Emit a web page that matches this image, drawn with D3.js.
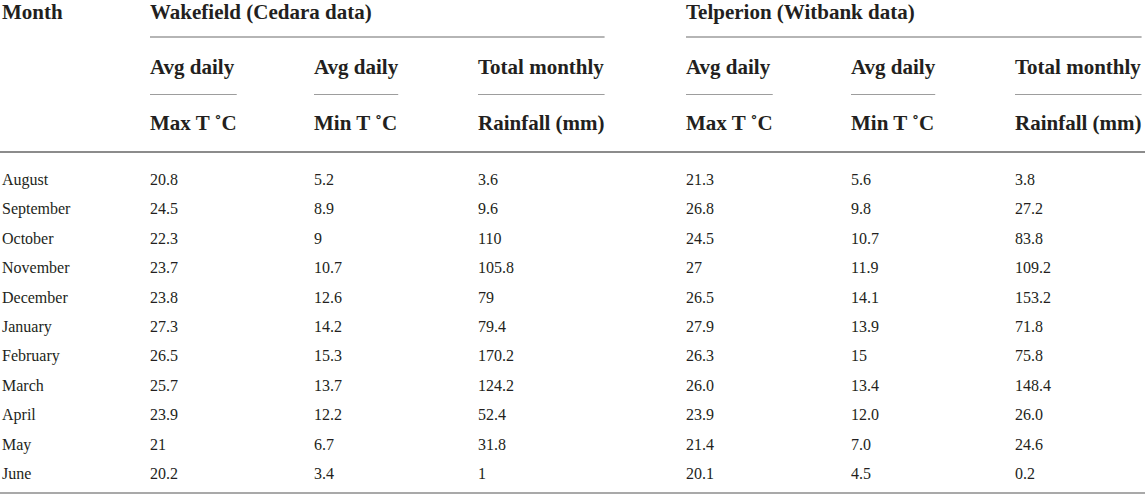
<!DOCTYPE html>
<html>
<head>
<meta charset="utf-8">
<script src="https://cdn.jsdelivr.net/npm/d3@7"></script>
<style>
  body { margin: 0; background: #fff; }
  svg text { font-family: "Liberation Serif", "Times New Roman", serif; fill: #231f20; }
  .head { font-weight: bold; font-size: 21px; }
  .cell { font-size: 16px; }
</style>
</head>
<body>
<div id="table-area"></div>
<script>
// TABLE DATA

let months = ["August", "September", "October", "November", "December", "January",
              "February", "March", "April", "May", "June"]

let sites = ["Wakefield (Cedara data)", "Telperion (Witbank data)"]
let headTop = ["Avg daily", "Avg daily", "Total monthly"]
let headBottom = ["Max T ˚C", "Min T ˚C", "Rainfall (mm)"]

// printed as in the table, so trailing zeros are kept
let wakeMax  = ["20.8", "24.5", "22.3", "23.7", "23.8", "27.3", "26.5", "25.7", "23.9", "21", "20.2"]
let wakeMin  = ["5.2", "8.9", "9", "10.7", "12.6", "14.2", "15.3", "13.7", "12.2", "6.7", "3.4"]
let wakeRain = ["3.6", "9.6", "110", "105.8", "79", "79.4", "170.2", "124.2", "52.4", "31.8", "1"]
let telMax   = ["21.3", "26.8", "24.5", "27", "26.5", "27.9", "26.3", "26.0", "23.9", "21.4", "20.1"]
let telMin   = ["5.6", "9.8", "10.7", "11.9", "14.1", "13.9", "15", "13.4", "12.0", "7.0", "4.5"]
let telRain  = ["3.8", "27.2", "83.8", "109.2", "153.2", "71.8", "75.8", "148.4", "26.0", "24.6", "0.2"]

let columns = [wakeMax, wakeMin, wakeRain, telMax, telMin, telRain]

// LAYOUT

let width = 1145, height = 502

let svg = d3.select("#table-area").append("svg")
    .attr("width", width)
    .attr("height", height)

let xCol = d3.scaleOrdinal()
    .domain(d3.range(6))
    .range([150, 314, 478, 686, 851, 1015])

let yRow = d3.scalePoint()
    .domain(months)
    .range([185, 479])

let ruleThin = "#9d9d9d", ruleThick = "#8c8c8c"

// header text
svg.append("text").attr("class", "head").attr("x", 2).attr("y", 19).text("Month")

let groups = svg.selectAll(".site").data(sites).enter()
    .append("g")
    .attr("class", "site")

groups.append("text")
    .attr("class", "head")
    .attr("x", (d, i) => xCol(i * 3))
    .attr("y", 19)
    .text(d => d)

let headCells = []
for (let c = 0; c < 6; c++) {
    headCells.push({col: c, top: headTop[c % 3], bottom: headBottom[c % 3]})
}

let heads = svg.selectAll(".col-head").data(headCells).enter()
    .append("g")
    .attr("class", "col-head")
    .attr("transform", d => "translate(" + xCol(d.col) + ",0)")

heads.append("text").attr("class", "head top").attr("y", 74).text(d => d.top)
heads.append("text").attr("class", "head bottom").attr("y", 130).text(d => d.bottom)

// measure each header cell so the rule under it matches the content width
heads.each(function (d) {
    let g = d3.select(this)
    d.w = Math.max(g.select(".top").node().getComputedTextLength(),
                   g.select(".bottom").node().getComputedTextLength())
})

heads.append("line")
    .attr("x1", 0)
    .attr("x2", d => Math.min(d.w, width - xCol(d.col)))
    .attr("y1", 94.5).attr("y2", 94.5)
    .attr("stroke", ruleThin)
    .attr("stroke-width", 1)

// rule under each site title
groups.append("line")
    .attr("x1", (d, i) => xCol(i * 3))
    .attr("x2", (d, i) => Math.min(width, xCol(i * 3 + 2) + headCells[i * 3 + 2].w))
    .attr("y1", 37).attr("y2", 37)
    .attr("stroke", ruleThin)
    .attr("stroke-width", 1.3)

// body rows
let rows = svg.selectAll(".row").data(months).enter()
    .append("g")
    .attr("class", "row")
    .attr("transform", d => "translate(0," + yRow(d) + ")")

rows.append("text").attr("class", "cell").attr("x", 2).text(d => d)

rows.selectAll(".val")
    .data((m, i) => columns.map((col, c) => ({col: c, v: col[i]})))
    .enter()
    .append("text")
    .attr("class", "cell val")
    .attr("x", d => xCol(d.col))
    .text(d => d.v)

// table rules
svg.append("line")
    .attr("x1", 0).attr("x2", width)
    .attr("y1", 152).attr("y2", 152)
    .attr("stroke", ruleThick)
    .attr("stroke-width", 2)

svg.append("line")
    .attr("x1", 0).attr("x2", width)
    .attr("y1", 493).attr("y2", 493)
    .attr("stroke", ruleThick)
    .attr("stroke-width", 1.5)
</script>
</body>
</html>
